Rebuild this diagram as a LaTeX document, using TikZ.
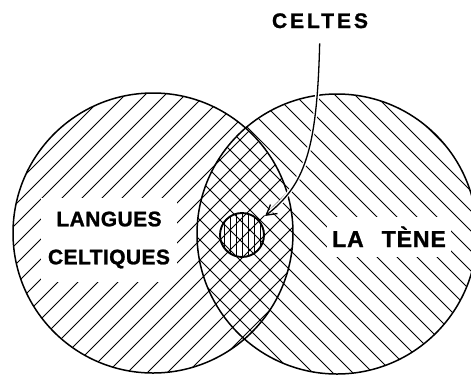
\documentclass[tikz,border=0pt]{standalone}
\usepackage{fontspec}
\setmainfont{Liberation Sans}
\newfontfamily\lblfont[LetterSpace=2,FakeBold=1.2]{Liberation Sans Bold}
\newfontfamily\tenefont[LetterSpace=4,FakeBold=1.2]{Liberation Sans Bold}
\newfontfamily\topfont[LetterSpace=14,FakeBold=1.2]{Liberation Sans Bold}
\usetikzlibrary{arrows.meta}

\begin{document}
\begin{tikzpicture}[
  x=1pt,y=-1pt,
  ring/.style={line width=1.5pt},
  hatch/.style={line width=1pt},
  lbl/.style={font=\lblfont\fontsize{21}{38}\selectfont,fill=white,align=center,inner xsep=7pt,inner ysep=14pt},
  arr/.style={-{Straight Barb[length=3.5mm,width=4mm]},line width=1.3pt}
]
\useasboundingbox (0,0) rectangle (471,376);
\coordinate (lc) at (153,233);
\coordinate (rc) at (337,234);
\coordinate (cc) at (242,235);
% langues celtiques
\begin{scope}
\clip (lc) circle[radius=140];
\foreach \c in {-400,-380,...,320} \draw[hatch] (\c,400) -- (\c+400,0);
\end{scope}
% la tene
\begin{scope}
\clip (rc) circle[radius=140];
\foreach \c in {-300,-280,...,500} \draw[hatch] (\c,0) -- (\c+400,400);
\end{scope}
% celtes
\begin{scope}
\clip (cc) circle[radius=22];
\foreach \x in {218,224,...,266} \draw[hatch] (\x,200) -- (\x,270);
\end{scope}
\node[lbl] (langues) at (109,240) {LANGUES\\CELTIQUES};
\node[lbl,font=\tenefont\fontsize{23}{28}\selectfont,anchor=base,inner xsep=5pt,inner ysep=10pt] (tene) at (389,247) {LA\hspace{18pt}TÈNE};
\node[font=\topfont\fontsize{21}{24}\selectfont,anchor=base,inner sep=2pt] (celtes) at (320,28) {CELTES};
\draw[ring] (lc) circle[radius=140];
\draw[ring] (rc) circle[radius=140];
\node[draw,circle,line width=1.9pt,minimum size=44pt,inner sep=0pt] (core) at (cc) {};
\draw[arr,preaction={draw=white,line width=4pt,-},shorten <=13pt,shorten >=7pt]
  (celtes.south) .. controls (317,150) and (305,185) .. (core.40);
\end{tikzpicture}
\end{document}
